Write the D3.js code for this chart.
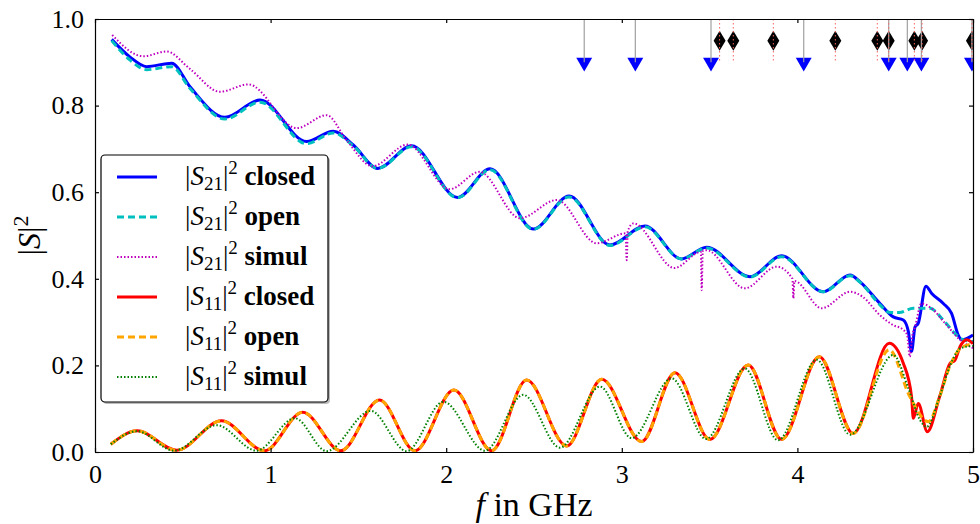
<!DOCTYPE html>
<html><head><meta charset="utf-8">
<script src="https://cdn.jsdelivr.net/npm/d3@7"></script>
<style>
body{margin:0;background:#fff;}
svg{display:block;}
svg text{font-family:"Liberation Serif","DejaVu Serif",serif;}
</style></head><body>
<svg id="chart" width="980" height="524"></svg>
<script>
// ---- data ----
const xTicks = [0, 1, 2, 3, 4, 5];
const yTicks = [0.0, 0.2, 0.4, 0.6, 0.8, 1.0];
const xTickLabels = ["0", "1", "2", "3", "4", "5"];
const yTickLabels = ["0.0", "0.2", "0.4", "0.6", "0.8", "1.0"];

const s21Closed = [[0.095,0.953],[0.2,0.912],[0.294,0.890],[0.437,0.898],[0.54,0.844],[0.74,0.773],[0.94,0.813],[1.205,0.717],[1.357,0.741],[1.471,0.709],[1.61,0.655],[1.803,0.707],[2.065,0.588],[2.25,0.654],[2.496,0.515],[2.70,0.591],[2.933,0.478],[3.132,0.522],[3.34,0.446],[3.483,0.473],[3.73,0.405],[3.91,0.453],[4.147,0.370],[4.30,0.409],[4.357,0.393],[4.47,0.343],[4.546,0.312],[4.603,0.305],[4.632,0.278],[4.65,0.232],[4.67,0.289],[4.688,0.297],[4.732,0.383],[4.765,0.366],[4.831,0.343],[4.878,0.320],[4.916,0.270],[4.935,0.259],[4.983,0.266],[5.0,0.270]];
const s21Open = [[0.095,0.950],[0.2,0.905],[0.294,0.883],[0.437,0.890],[0.54,0.840],[0.74,0.769],[0.94,0.808],[1.205,0.712],[1.357,0.737],[1.471,0.707],[1.61,0.655],[1.803,0.705],[2.065,0.587],[2.25,0.652],[2.496,0.514],[2.70,0.589],[2.933,0.477],[3.132,0.520],[3.34,0.446],[3.483,0.471],[3.73,0.404],[3.91,0.451],[4.147,0.370],[4.30,0.407],[4.357,0.392],[4.47,0.340],[4.52,0.323],[4.58,0.322],[4.66,0.332],[4.755,0.332],[4.83,0.305],[4.907,0.270],[4.945,0.259],[5.0,0.255]];
const s21Simul = [[0.098,0.963],[0.275,0.914],[0.408,0.925],[0.54,0.885],[0.712,0.832],[0.873,0.849],[1.149,0.748],[1.319,0.778],[1.433,0.720],[1.58,0.660],[1.78,0.710],[2.02,0.607],[2.19,0.647],[2.42,0.540],[2.63,0.582],[2.857,0.482],[3.022,0.505],[3.028,0.443],[3.034,0.510],[3.066,0.528],[3.30,0.425],[3.45,0.462],[3.455,0.374],[3.461,0.464],[3.483,0.466],[3.70,0.378],[3.882,0.428],[3.972,0.400],[3.977,0.355],[3.983,0.395],[4.138,0.332],[4.30,0.370],[4.37,0.359],[4.47,0.316],[4.546,0.293],[4.60,0.283],[4.625,0.270],[4.64,0.220],[4.655,0.270],[4.67,0.289],[4.706,0.343],[4.763,0.332],[4.85,0.293],[4.926,0.259],[5.0,0.240]];
const s11Closed = [[0.09,0.018],[0.24,0.049],[0.465,0.004],[0.72,0.072],[0.965,0.003],[1.183,0.092],[1.40,0.003],[1.62,0.120],[1.822,0.003],[2.044,0.143],[2.259,0.003],[2.458,0.166],[2.686,0.014],[2.886,0.168],[3.113,0.024],[3.303,0.183],[3.502,0.029],[3.72,0.201],[3.91,0.029],[4.125,0.220],[4.318,0.043],[4.523,0.251],[4.603,0.205],[4.65,0.128],[4.66,0.078],[4.688,0.112],[4.74,0.047],[4.81,0.128],[4.87,0.205],[4.897,0.212],[4.926,0.243],[4.964,0.259],[5.0,0.250]];
const s11Open = [[0.09,0.018],[0.24,0.049],[0.465,0.004],[0.72,0.072],[0.965,0.003],[1.183,0.092],[1.40,0.003],[1.62,0.120],[1.822,0.003],[2.044,0.143],[2.259,0.003],[2.458,0.166],[2.686,0.014],[2.886,0.168],[3.113,0.024],[3.303,0.183],[3.502,0.029],[3.72,0.201],[3.91,0.029],[4.125,0.220],[4.318,0.043],[4.523,0.236],[4.64,0.128],[4.746,0.070],[4.81,0.128],[4.87,0.200],[4.93,0.240],[5.0,0.250]];
const s11Simul = [[0.09,0.018],[0.24,0.048],[0.45,0.003],[0.693,0.062],[0.92,0.003],[1.139,0.078],[1.319,0.002],[1.57,0.095],[1.775,0.002],[1.984,0.116],[2.221,0.003],[2.439,0.132],[2.648,0.010],[2.876,0.151],[3.056,0.032],[3.284,0.170],[3.48,0.030],[3.70,0.193],[3.89,0.027],[4.11,0.213],[4.30,0.040],[4.546,0.224],[4.632,0.147],[4.698,0.074],[4.736,0.058],[4.81,0.128],[4.87,0.200],[4.93,0.240],[5.0,0.245]];

const seriesSub = ["21", "21", "21", "11", "11", "11"];
const seriesWord = ["closed", "open", "simul", "closed", "open", "simul"];
const seriesColor = ["#0000ff", "#00bfbf", "#bf00bf", "#ff0000", "#ffa500", "#008000"];

const triangleF = [2.786, 3.077, 3.508, 4.036, 4.520, 4.626, 4.706, 4.994];
const triangleLevel = 0.9;
const diamondF = [3.557, 3.635, 3.863, 4.216, 4.455, 4.520, 4.666, 4.710, 4.994];
const diamondLevel = 0.95;

// ---- styles ----
const FONT = '"Liberation Serif","DejaVu Serif",serif';
const seriesData = [s21Closed, s21Open, s21Simul, s11Closed, s11Open, s11Simul];
const seriesWidth = [3, 3, 2, 3, 3, 2];
const seriesDash = [null, "7,4", "1.5,2", null, "7,4", "1.5,2"];

const W = 980, H = 524;
const m = {l: 95, r: 7, t: 19, b: 72};
const svg = d3.select("#chart");
const x = d3.scaleLinear().domain([0, 5]).range([m.l, W - m.r]);
const y = d3.scaleLinear().domain([0, 1]).range([H - m.b, m.t]);

svg.append("defs").append("clipPath").attr("id", "clip")
  .append("rect").attr("x", m.l).attr("y", m.t)
  .attr("width", W - m.r - m.l).attr("height", H - m.b - m.t);

const plot = svg.append("g").attr("clip-path", "url(#clip)");
const line = d3.line().x(d => x(d[0])).y(d => y(d[1])).curve(d3.curveMonotoneX);

seriesData.forEach((s, i) => {
  plot.append("path").datum(s).attr("d", line)
    .attr("fill", "none").attr("stroke", seriesColor[i])
    .attr("stroke-width", seriesWidth[i])
    .attr("stroke-dasharray", seriesDash[i])
    .attr("stroke-linejoin", "round");
});

// markers
const tri = d3.symbol().type(d3.symbolTriangle).size(110);
plot.selectAll(".tri").data(triangleF).enter().append("path")
  .attr("d", tri)
  .attr("transform", d => `translate(${x(d)},${y(triangleLevel)}) rotate(180)`)
  .attr("fill", "#0000ff");
plot.selectAll(".dia").data(diamondF).enter().append("path")
  .attr("d", d => {
    const cx = x(d), cy = y(diamondLevel);
    return `M${cx},${cy-10}L${cx+6},${cy}L${cx},${cy+10}L${cx-6},${cy}Z`;
  })
  .attr("fill", "#000");
plot.selectAll(".tl").data(triangleF).enter().append("line")
  .attr("x1", d => x(d)).attr("x2", d => x(d))
  .attr("y1", y(1)).attr("y2", y(triangleLevel))
  .attr("stroke", "#a0a0a0").attr("stroke-width", 1.2);
plot.selectAll(".dl").data(diamondF).enter().append("line")
  .attr("x1", d => x(d)).attr("x2", d => x(d))
  .attr("y1", y(1)).attr("y2", y(triangleLevel))
  .attr("stroke", "#ff6060").attr("stroke-width", 1)
  .attr("stroke-dasharray", "1.5,2.5");

// axes
function styleAxis(g) {
  g.attr("font-family", FONT).attr("font-size", 26);
  g.select(".domain").attr("stroke", "#000").attr("stroke-width", 1.2);
  g.selectAll(".tick line").attr("stroke", "#000").attr("stroke-width", 1.2);
  g.selectAll(".tick text").attr("fill", "#000").style("font-family", FONT).style("font-size", "26px");
}
svg.append("g").attr("transform", `translate(0,${H - m.b})`)
  .call(d3.axisBottom(x).tickValues(xTicks).tickFormat((d, i) => xTickLabels[i]).tickSizeInner(-4).tickSizeOuter(0).tickPadding(13))
  .call(styleAxis);
svg.append("g").attr("transform", `translate(0,${m.t})`)
  .call(d3.axisTop(x).tickValues(xTicks).tickFormat("").tickSizeInner(-4).tickSizeOuter(0))
  .call(styleAxis);
svg.append("g").attr("transform", `translate(${m.l},0)`)
  .call(d3.axisLeft(y).tickValues(yTicks).tickFormat((d, i) => yTickLabels[i]).tickSizeInner(-4).tickSizeOuter(0).tickPadding(11))
  .call(styleAxis);
svg.append("g").attr("transform", `translate(${W - m.r},0)`)
  .call(d3.axisRight(y).tickValues(yTicks).tickFormat("").tickSizeInner(-4).tickSizeOuter(0))
  .call(styleAxis);

// axis labels
const yl = svg.append("text").attr("transform", `translate(40,${(m.t + H - m.b) / 2}) rotate(-90)`)
  .attr("text-anchor", "middle").style("font-family", FONT).style("font-size", "32px");
yl.append("tspan").text("|");
yl.append("tspan").attr("font-style", "italic").text("S");
yl.append("tspan").text("|");
yl.append("tspan").attr("dy", -12).style("font-size", "22px").text("2");

const xl = svg.append("text").attr("x", (m.l + W - m.r) / 2).attr("y", 516)
  .attr("text-anchor", "middle").style("font-family", FONT).style("font-size", "34px");
xl.append("tspan").attr("font-style", "italic").text("f");
xl.append("tspan").text(" in GHz");

// legend
const lg = svg.append("g");
lg.append("rect").attr("x", 103).attr("y", 157).attr("width", 227).attr("height", 247)
  .attr("rx", 4).attr("fill", "#777").attr("opacity", 0.5);
lg.append("rect").attr("x", 101).attr("y", 155).attr("width", 227).attr("height", 247)
  .attr("rx", 4).attr("fill", "#fff").attr("stroke", "#000").attr("stroke-width", 1.2);
seriesData.forEach((s, i) => {
  const cy = 177 + 40 * i;
  lg.append("line").attr("x1", 117).attr("x2", 157).attr("y1", cy).attr("y2", cy)
    .attr("stroke", seriesColor[i]).attr("stroke-width", seriesWidth[i])
    .attr("stroke-dasharray", seriesDash[i]);
  const t = lg.append("text").attr("x", 185).attr("y", cy + 8)
    .style("font-family", FONT).style("font-size", "27px");
  t.append("tspan").text("|");
  t.append("tspan").attr("font-style", "italic").text("S");
  t.append("tspan").attr("dy", 5).style("font-size", "19px").text(seriesSub[i]);
  t.append("tspan").attr("dy", -5).text("|");
  t.append("tspan").attr("dy", -11).style("font-size", "19px").text("2");
  t.append("tspan").attr("dy", 11).attr("font-weight", "bold").text("\u00a0" + seriesWord[i]);
});
</script>
</body></html>
